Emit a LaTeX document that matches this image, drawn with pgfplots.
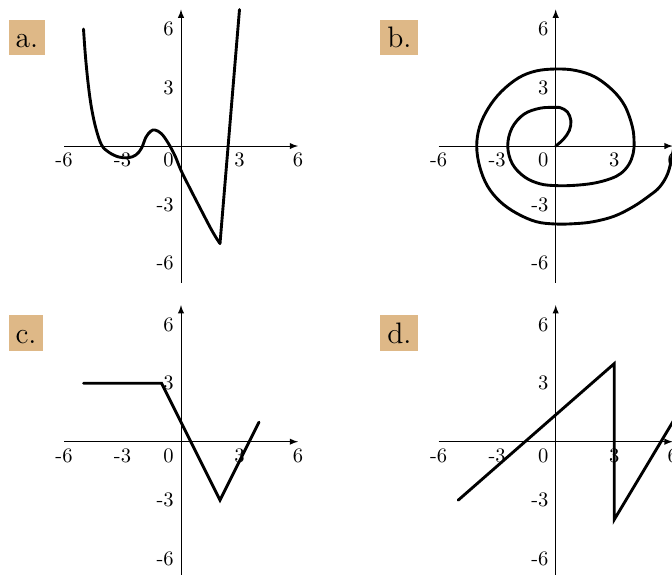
\documentclass[border=0pt]{standalone}
\usepackage{pgfplots}
\pgfplotsset{compat=1.18}
\definecolor{tagfill}{RGB}{222,184,135}

\pgfplotsset{
  panel/.style={
    axis lines=middle,
    x=0.33333cm, y=0.33333cm,
    xmin=-6, xmax=6, ymin=-7, ymax=7,
    xtick={-6,-3,3,6}, ytick={-6,-3,3,6},
    xticklabels={-6,-3,3,6}, yticklabels={-6,-3,3,6},
    major tick length=0pt,
    axis line style={line width=0.4pt, -latex},
    clip=false,
    anchor=center,
  },
  curve/.style={line width=1.4pt, black, line cap=round, line join=round},
}
\tikzset{
  paneltag/.style={fill=tagfill, anchor=north west, font=\Large,
    text height=10.5pt, text depth=0pt, inner sep=3.33pt},
  origintag/.style={anchor=north east, inner sep=3.33pt},
}

\begin{document}
\begin{tikzpicture}

% a: smooth curve with a corner at (2,-5)
\begin{axis}[panel, at={(0cm,0cm)}]
  \addplot[curve, smooth, tension=0.6] coordinates {
    (-5.0,6.0) (-4.9,4.6) (-4.75,3.1) (-4.58,1.9) (-4.35,0.85)
    (-4.07,0.05) (-3.7,-0.32) (-3.2,-0.56) (-2.7,-0.6) (-2.3,-0.45)
    (-2.02,-0.1) (-1.8,0.45) (-1.55,0.76) (-1.33,0.82) (-1.0,0.63)
    (-0.65,0.14) (-0.3,-0.52) (0.0,-1.25) (0.5,-2.25) (1.0,-3.22)
    (1.5,-4.18) (1.8,-4.7) (2.0,-5.0)
  };
  \addplot[curve] coordinates {(2,-5) (3,7)};
  \node[origintag] at (axis cs:0,0) {0};
  \node[paneltag] at (axis cs:-8.86,6.51) {a.};
\end{axis}

% b: spiral from the origin
\begin{axis}[panel, at={(6.405cm,0cm)}]
  \addplot[curve, smooth, tension=0.6] coordinates {
    (0,0) (0.4,0.35) (0.7,0.8) (0.78,1.3) (0.6,1.75) (0.25,1.96)
    (0,1.98) (-0.80,1.94) (-1.63,1.63) (-2.24,0.93) (-2.46,0)
    (-2.22,-0.92) (-1.59,-1.59) (-0.80,-1.94) (0,-2.03) (0.9,-2.02)
    (1.93,-1.91) (2.8,-1.68) (3.35,-1.4) (3.75,-0.95) (3.97,-0.4)
    (4.02,0.2) (3.93,1.0) (3.55,2.05) (2.93,2.85) (2.0,3.55) (1.0,3.88)
    (0,3.95) (-1.0,3.85) (-1.9,3.5) (-2.79,2.79) (-3.45,1.95)
    (-3.9,1.0) (-4.05,0) (-3.9,-1.05) (-3.5,-2.05) (-2.85,-2.85)
    (-2.0,-3.45) (-1.0,-3.88) (0,-4.0) (1.0,-3.98) (1.93,-3.88)
    (3.0,-3.6) (3.98,-3.11) (4.8,-2.55) (5.34,-2.09) (5.75,-1.4)
    (5.97,-0.5) (6.15,0.4) (6.3,1.5)
  };
  \node[origintag] at (axis cs:0,0) {0};
  \node[paneltag] at (axis cs:-9.01,6.51) {b.};
\end{axis}

% c: piecewise linear
\begin{axis}[panel, at={(0cm,-5.054cm)}]
  \addplot[curve, line join=miter] coordinates {(-5,3) (-1,3) (2,-3) (4,1)};
  \node[origintag] at (axis cs:0,0) {0};
  \node[paneltag] at (axis cs:-8.86,6.50) {c.};
\end{axis}

% d: jump at x = 3
\begin{axis}[panel, at={(6.405cm,-5.054cm)}]
  \addplot[curve, line join=miter] coordinates {(-5,-3) (3,4) (3,-4) (6.1,1.17)};
  \node[origintag] at (axis cs:0,0) {0};
  \node[paneltag] at (axis cs:-9.01,6.50) {d.};
\end{axis}

\pgfresetboundingbox
\path[use as bounding box] (-3.094cm,-7.316cm) rectangle (8.393cm,2.496cm);
\end{tikzpicture}
\end{document}
